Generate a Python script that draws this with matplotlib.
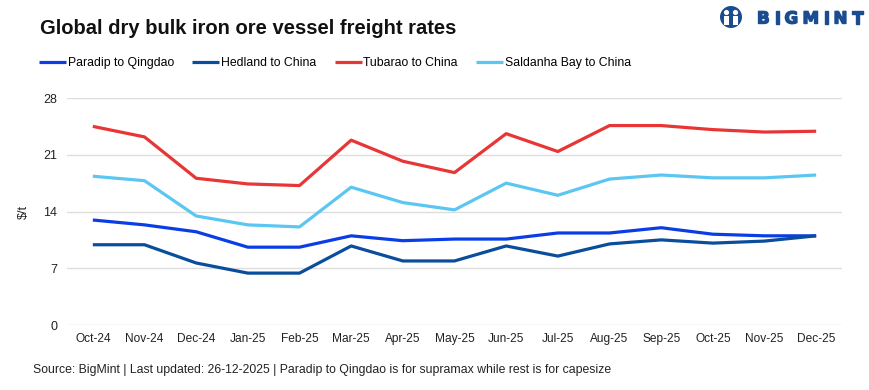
import matplotlib
matplotlib.use("Agg")
import matplotlib.pyplot as plt
import matplotlib.patheffects as pe
from matplotlib.patches import Circle, Rectangle

months = ["Oct-24", "Nov-24", "Dec-24", "Jan-25", "Feb-25", "Mar-25", "Apr-25", "May-25",
          "Jun-25", "Jul-25", "Aug-25", "Sep-25", "Oct-25", "Nov-25", "Dec-25"]
paradip = [12.95, 12.35, 11.5, 9.6, 9.6, 11.0, 10.4, 10.6, 10.6, 11.35, 11.35, 12.0, 11.2, 11.0, 11.0]
hedland = [9.9, 9.9, 7.65, 6.4, 6.4, 9.75, 7.9, 7.9, 9.75, 8.5, 10.0, 10.5, 10.1, 10.35, 11.0]
tubarao = [24.5, 23.2, 18.1, 17.4, 17.2, 22.8, 20.2, 18.8, 23.6, 21.4, 24.6, 24.6, 24.1, 23.8, 23.9]
saldanha = [18.35, 17.8, 13.45, 12.35, 12.1, 17.0, 15.1, 14.2, 17.5, 16.0, 18.0, 18.5, 18.15, 18.15, 18.5]
yticks = [0, 7, 14, 21, 28]

names = ["Paradip to Qingdao", "Hedland to China", "Tubarao to China", "Saldanha Bay to China"]
colors = ["#0b3de6", "#0a4d9c", "#e83535", "#5cc6f2"]

plt.rcParams['font.family'] = ["Liberation Sans", "DejaVu Sans"]

W, H = 870, 390
fig = plt.figure(figsize=(W/100, H/100), dpi=100)
ax = fig.add_axes([67/W, 1-325/H, (842-67)/W, (325-98)/H])

x = list(range(len(months)))
for vals, c, n in zip([paradip, hedland, tubarao, saldanha], colors, names):
    ax.plot(x, vals, color=c, lw=2.3, label=n, solid_capstyle='butt')

ax.set_xlim(-0.5, len(months) - 0.5)
ax.set_ylim(0, 28)
ax.set_yticks(yticks)
ax.set_yticklabels([str(t) for t in yticks], fontsize=9, color="#222222")
ax.set_xticks(x)
ax.set_xticklabels(months, fontsize=8.6, color="#222222")
ax.tick_params(length=0, pad=6)
ax.tick_params(axis='y', pad=7)
ax.grid(axis='y', color="#dedede", lw=1)
ax.set_axisbelow(True)
for s in ax.spines.values():
    s.set_visible(False)
ax.set_ylabel(r"\$/t", fontsize=9, color="#222222")
ax.yaxis.set_label_coords((30 - 67) / (842 - 67), 0.5)

fig.text(40/W, 1-28/H, "Global dry bulk iron ore vessel freight rates", fontsize=14.5,
         fontweight='bold', va='center', ha='left', color="#111111")

fig.legend(loc='center left', bbox_to_anchor=(28/W, 1-63/H), ncol=4, frameon=False,
           handlelength=2.2, handletextpad=0.15, columnspacing=1.5,
           prop={'size': 8.8})

fig.text(33/W, 1-370/H,
         "Source: BigMint | Last updated: 26-12-2025 | Paradip to Qingdao is for supramax while rest is for capesize",
         fontsize=8.8, va='center', ha='left', color="#222222")

# Logo
logo_c = "#1a4c8f"
letters = "BIGMINT"
lx = [757, 774, 784.5, 802.5, 823, 833.5, 852]
for ch, px in zip(letters, lx):
    fig.text(px/W, 1-18.5/H, ch, fontsize=12, fontweight='bold', color=logo_c,
             va='center', ha='left', family=["DejaVu Sans"],
             path_effects=[pe.withStroke(linewidth=1.0, foreground=logo_c)])
fig.patches.append(Circle((731, H-17), 11, transform=None, facecolor=logo_c, edgecolor='none', figure=fig))
for hx in (726.5, 735.5):
    fig.patches.append(Circle((hx, H-12.5), 2.6, transform=None, facecolor='white', edgecolor='none', figure=fig))
    fig.patches.append(Rectangle((hx-2.2, H-25), 4.4, 9, transform=None, facecolor='white', edgecolor='none', figure=fig))

fig.savefig("out.png", dpi=100)
